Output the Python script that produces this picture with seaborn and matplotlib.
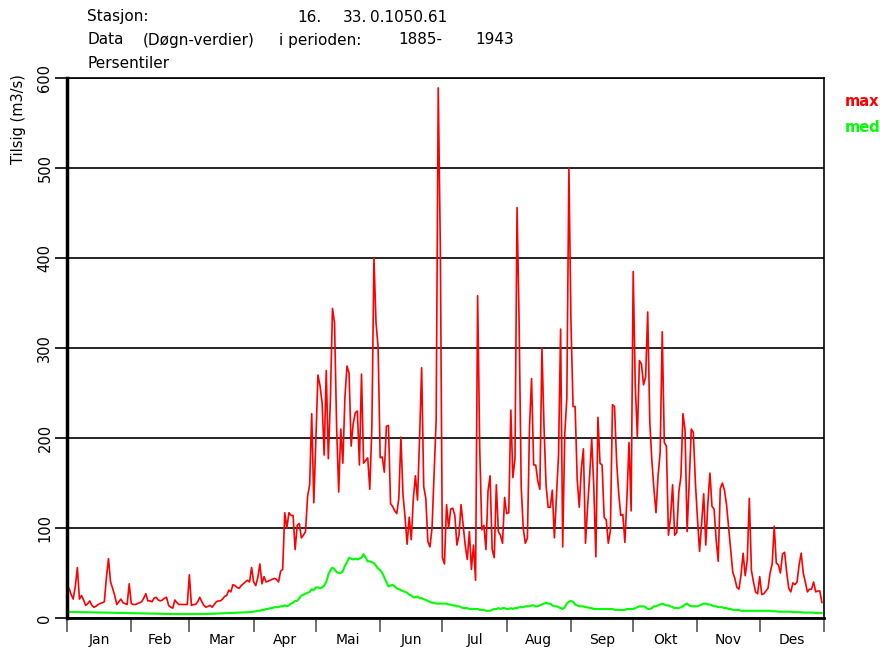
import numpy as np
import pandas as pd
import seaborn as sns
import matplotlib.pyplot as plt

# Maned og antall dager
month_names = ["Jan", "Feb", "Mar", "Apr", "Mai", "Jun", "Jul", "Aug", "Sep", "Okt", "Nov", "Des"]
month_days = [31, 28, 31, 30, 31, 30, 31, 31, 30, 31, 30, 31]

# Maks tilsig (m3/s), dag for dag
max_jan = [33, 33, 26, 21, 35, 56, 21, 25, 20, 14, 16, 19, 14, 12, 13, 15, 16, 17, 18, 45, 66, 40, 33, 25, 15, 18, 21, 17, 16, 15, 38]
max_feb = [16, 15, 15, 16, 17, 18, 22, 27, 19, 19, 18, 22, 23, 20, 19, 20, 22, 23, 14, 12, 11, 20, 17, 15, 15, 15, 15, 15]
max_mar = [48, 14, 15, 15, 18, 23, 18, 14, 12, 13, 14, 12, 15, 18, 19, 19, 21, 24, 25, 31, 29, 37, 36, 34, 33, 36, 38, 40, 42, 40, 56]
max_apr = [40, 36, 45, 60, 38, 46, 40, 41, 42, 43, 44, 43, 40, 52, 54, 117, 100, 117, 114, 114, 76, 103, 105, 89, 92, 96, 135, 148, 227, 128]
max_mai = [200, 270, 258, 239, 181, 275, 177, 243, 344, 328, 212, 140, 210, 172, 245, 280, 272, 191, 216, 228, 230, 170, 271, 172, 175, 178, 143, 212, 400, 328, 301]
max_jun = [178, 179, 162, 213, 214, 127, 124, 119, 116, 133, 201, 137, 112, 82, 112, 87, 133, 158, 131, 200, 278, 146, 133, 85, 79, 100, 160, 220, 589, 413]
max_jul = [67, 60, 126, 100, 121, 122, 114, 81, 92, 126, 104, 81, 65, 96, 54, 81, 42, 358, 189, 98, 103, 76, 141, 158, 76, 67, 148, 96, 92, 83, 134]
max_aug = [116, 117, 231, 156, 177, 456, 328, 146, 99, 83, 89, 212, 266, 170, 170, 152, 143, 300, 212, 147, 123, 123, 142, 89, 135, 181, 321, 79, 204, 244, 500]
max_sep = [328, 235, 235, 154, 123, 166, 188, 83, 123, 158, 199, 146, 68, 223, 172, 170, 112, 109, 83, 97, 237, 235, 174, 139, 114, 115, 84, 135, 195, 119]
max_okt = [385, 259, 201, 286, 282, 259, 268, 340, 218, 175, 143, 117, 158, 184, 318, 195, 191, 92, 112, 148, 92, 95, 140, 157, 227, 209, 96, 150, 210, 206, 150]
max_nov = [110, 74, 105, 138, 81, 127, 161, 124, 121, 87, 63, 144, 150, 142, 126, 101, 75, 51, 44, 34, 32, 48, 72, 47, 64, 133, 53, 40, 29, 27]
max_des = [46, 26, 27, 30, 33, 50, 60, 102, 61, 59, 50, 71, 73, 51, 33, 29, 39, 37, 40, 59, 72, 50, 40, 29, 32, 32, 40, 29, 30, 30, 17]

# Median tilsig (m3/s), dag for dag
med_jan = [6.8, 6.8, 6.7, 6.7, 6.6, 6.6, 6.5, 6.5, 6.5, 6.4, 6.4, 6.3, 6.3, 6.2, 6.2, 6.1, 6.1, 6.0, 6.0, 6.0, 5.9, 5.9, 5.8, 5.8, 5.7, 5.7, 5.6, 5.6, 5.5, 5.5, 5.4]
med_feb = [5.4, 5.3, 5.3, 5.2, 5.2, 5.1, 5.1, 5.0, 5.0, 4.9, 4.9, 4.8, 4.8, 4.7, 4.7, 4.6, 4.6, 4.5, 4.5, 4.5, 4.4, 4.4, 4.4, 4.3, 4.3, 4.3, 4.2, 4.2]
med_mar = [4.2, 4.2, 4.3, 4.3, 4.3, 4.4, 4.4, 4.5, 4.5, 4.6, 4.6, 4.7, 4.8, 4.9, 5.0, 5.1, 5.2, 5.3, 5.4, 5.5, 5.6, 5.7, 5.8, 5.9, 6.0, 6.1, 6.2, 6.3, 6.4, 6.5, 6.6]
med_apr = [7, 7.5, 8, 8, 9, 9, 10, 10, 11, 11, 12, 12, 12, 13, 13, 14, 13, 14, 16, 17, 19, 19, 22, 25, 26, 27, 28, 29, 32, 31]
med_mai = [34, 34, 33, 34, 36, 40, 48, 53, 56, 54, 51, 50, 50, 52, 58, 62, 67, 66, 65, 66, 65, 66, 67, 71, 67, 63, 63, 62, 61, 58, 55]
med_jun = [53, 50, 45, 40, 35, 36, 37, 35, 33, 32, 31, 30, 29, 28, 26, 25, 23, 23, 24, 22, 22, 21, 20, 19, 18, 17, 17, 16, 16, 16]
med_jul = [16, 16, 16, 15, 15, 14, 14, 13, 13, 12, 11, 11, 11, 10, 10, 10, 10, 10, 9, 9, 9, 8, 8, 8, 9, 10, 10, 11, 10, 11, 11]
med_aug = [10, 10, 11, 10, 11, 11, 12, 12, 12, 13, 13, 13, 14, 14, 13, 13, 14, 15, 16, 17, 16, 16, 14, 13, 13, 12, 11, 10, 12, 16, 18]
med_sep = [19, 18, 15, 14, 13, 13, 13, 12, 12, 11, 11, 10, 10, 10, 10, 10, 10, 10, 10, 10, 10, 9, 9, 9, 9, 9, 9, 10, 10, 10]
med_okt = [10, 11, 12, 13, 13, 13, 12, 10, 10, 11, 13, 13, 14, 15, 16, 15, 14, 14, 13, 12, 11, 11, 11, 12, 13, 15, 16, 14, 13, 13, 13]
med_nov = [13, 14, 15, 16, 16, 15, 15, 14, 13, 13, 12, 12, 12, 11, 11, 10, 10, 9, 9, 9, 9, 8, 8, 8, 8, 8, 8, 8, 8, 8]
med_des = [8, 8, 8, 8, 8, 8, 7.5, 7.5, 7.5, 7, 7, 7, 7, 7, 7, 7, 6.5, 6.5, 6.5, 6.5, 6.5, 6, 6, 6, 6, 6, 6, 5.5, 5.5, 5.5, 5.5]

max_flow = (max_jan + max_feb + max_mar + max_apr + max_mai + max_jun
            + max_jul + max_aug + max_sep + max_okt + max_nov + max_des)
med_flow = (med_jan + med_feb + med_mar + med_apr + med_mai + med_jun
            + med_jul + med_aug + med_sep + med_okt + med_nov + med_des)

df = pd.DataFrame({"dag": np.arange(len(max_flow)), "max": max_flow, "med": med_flow})

sns.set_style("white")
plt.rcParams['font.family'] = ['DejaVu Sans']
plt.rcParams['text.color'] = 'black'
plt.rcParams['xtick.labelcolor'] = 'black'
plt.rcParams['ytick.labelcolor'] = 'black'

fig = plt.figure(figsize=(8.8, 6.51), dpi=100)
ax = fig.add_axes([67 / 880, 33 / 651, 757 / 880, 540 / 651])

sns.lineplot(data=df, x="dag", y="max", color="#ff0000", lw=1.2, ax=ax)
sns.lineplot(data=df, x="dag", y="med", color="#00ff00", lw=1.5, ax=ax)

ax.set_xlim(0, 365)
ax.set_ylim(0, 600)

# manedsgrenser og navn
bounds = np.concatenate([[0], np.cumsum(month_days)])
mids = (bounds[:-1] + bounds[1:]) / 2
ax.set_xticks(bounds)
ax.set_xticklabels([])
ax.set_xticks(mids, minor=True)
ax.set_xticklabels(month_names, minor=True)
ax.tick_params(axis="x", which="major", length=10, width=1.2, color="#555555", direction="out", bottom=True)
ax.tick_params(axis="x", which="minor", length=0, pad=10.5, labelsize=10)

ax.set_yticks(range(0, 700, 100))
ax.tick_params(axis="y", length=9, width=1.2, color="black", direction="out", left=True, pad=1.5, labelsize=10.5)
for lab in ax.get_yticklabels():
    lab.set_rotation(90)
    lab.set_va("center")

ax.grid(axis="y", color="black", lw=1.2)
ax.grid(axis="x", visible=False)
for side in ["top", "right"]:
    ax.spines[side].set_linewidth(1.2)
    ax.spines[side].set_color("black")
ax.spines["left"].set_linewidth(2.5)
ax.spines["bottom"].set_linewidth(2.0)
ax.spines["left"].set_color("black")
ax.spines["bottom"].set_color("black")
ax.set_xlabel("")
ax.set_ylabel("")

# tekster
fs = 11
fig.text(18 / 880, 1 - 119 / 651, "Tilsig (m3/s)", rotation=90, ha="center", va="center", fontsize=10.5)
fig.text(87 / 880, 1 - 17 / 651, "Stasjon:", va="center", fontsize=fs)
fig.text(297 / 880, 1 - 17 / 651, "16.", va="center", fontsize=fs)
fig.text(343 / 880, 1 - 17 / 651, "33.", va="center", fontsize=fs)
fig.text(370 / 880, 1 - 17 / 651, "0.1050.61", va="center", fontsize=fs)
fig.text(87 / 880, 1 - 40 / 651, "Data", va="center", fontsize=fs)
fig.text(143 / 880, 1 - 40 / 651, "(Døgn-verdier)", va="center", fontsize=fs)
fig.text(279 / 880, 1 - 40 / 651, "i perioden:", va="center", fontsize=fs)
fig.text(398 / 880, 1 - 40 / 651, "1885-", va="center", fontsize=fs)
fig.text(475 / 880, 1 - 40 / 651, "1943", va="center", fontsize=fs)
fig.text(87 / 880, 1 - 63 / 651, "Persentiler", va="center", fontsize=fs)

fig.text(845 / 880, 1 - 101 / 651, "max", color="#ff0000", va="center", fontsize=10.5, fontweight="bold")
fig.text(845 / 880, 1 - 128 / 651, "med", color="#00ff00", va="center", fontsize=10.5, fontweight="bold")

fig.savefig("out.png", dpi=100)
